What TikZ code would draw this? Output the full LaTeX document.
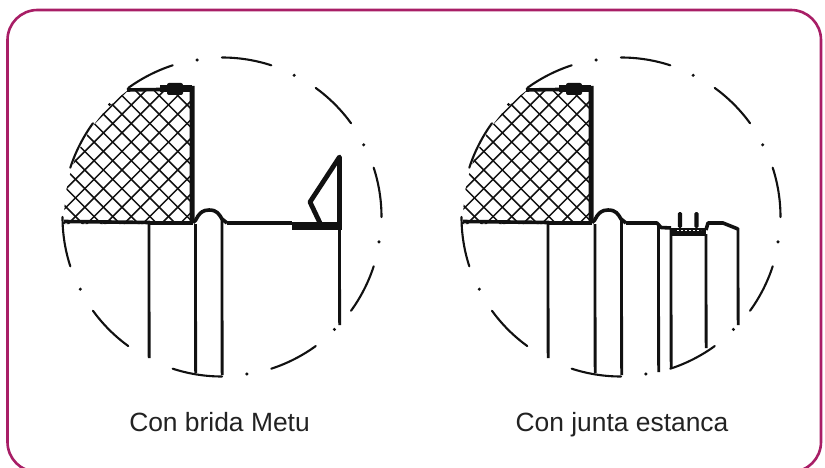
\documentclass[tikz,border=0pt]{standalone}
\usepackage{fontspec}
\setmainfont{Liberation Sans}
\definecolor{framec}{HTML}{A81E66}
\definecolor{inkc}{HTML}{111111}
\definecolor{textc}{HTML}{222222}
\tikzset{
  frameline/.style={draw=framec,line width=2.6pt,rounded corners=30pt},
  arcline/.style={draw=inkc,line width=2.1pt,line cap=round},
  hatchline/.style={draw=inkc,line width=1.5pt},
  mid part/.style={draw=inkc,line width=3.6pt,line join=round},
  thick part/.style={draw=inkc,line width=4.8pt,line join=round},
  caption/.style={anchor=base,text=textc,font=\fontsize{26.4}{30}\selectfont,inner sep=0pt}
}
\newcommand{\vpart}[3]{\fill[inkc] ({#1-1.4},#2) -- ({#1+1.4},#2) -- ({#1+1.55},#3) -- ({#1-1.25},#3) -- cycle;}
\newcommand{\ringdots}{%
  \foreach \a/\b in {90/72,54/36,18/0,-18/-36,-54/-72,-90/-108,-126/-144,-162/-180,162/144,126/108}
    \draw[arcline] (-\a:159.5) arc[start angle=-\a,end angle=-\b,radius=159.5];
  \foreach \a in {99,63,27,-9,-45,-81,-153,135}
    \fill[inkc] (-\a:159) circle (1.7);
}
\newcommand{\hatchblock}{%
  \begin{scope}
    \clip (-30,7) -- (-30,-129) -- (-95,-126) arc[start angle=-127,end angle=-178,radius=158] -- (-160,7) -- cycle;
    \foreach \k in {-14,...,14}{
      \draw[hatchline] (-100+\k*18.6,-140) ++(-160,160) -- ++(320,-320);
      \draw[hatchline] (-100+\k*18.6,-140) ++(-160,-160) -- ++(320,320);
    }
  \end{scope}
  \fill[inkc] (-32.5,-131) -- (-27.5,-131) -- (-27.4,6) -- (-32.4,6) -- cycle;
  \draw[mid part] (-95,-127) -- (-30,-128);
  \fill[inkc,rounded corners=2pt] (-55,-134) rectangle (-39,-122);
  \fill[inkc] (-62,-132) rectangle (-30,-125);
  \draw[mid part] (-158,4.5) -- (-72,5.5);
  \draw[thick part] (-72,6) -- (-29,6);
  \draw[mid part] (-29,5.5) .. controls (-25,5) and (-25,-7) .. (-13,-7)
     .. controls (-5,-7) and (-3,-3) .. (0,2) -- (5,6);
}
\begin{document}
\begin{tikzpicture}[x=1pt,y=-1pt]
  \useasboundingbox (0,0) rectangle (825,468);
  \fill[white] (0,0) rectangle (825,468);
  \begin{scope}
    \clip (0,0) rectangle (825,468);
    \draw[frameline] (7.5,10) rectangle (821,472);
  \end{scope}
  % left detail
  \begin{scope}[shift={(222,217)}]
    \ringdots
    \hatchblock
    \vpart{-73}{7}{141}
    \vpart{-26.5}{7}{156}
    \vpart{0}{2}{158}
    \vpart{117.5}{8}{108}
    \draw[mid part] (5,6) -- (70,6);
    \fill[inkc] (70,5) rectangle (120,12.5);
    \draw[thick part,line cap=round] (117.5,11) -- (117.5,-60) -- (88,-15) -- (98,6);
  \end{scope}
  % right detail
  \begin{scope}[shift={(621,217)}]
    \ringdots
    \hatchblock
    \vpart{-73}{7}{141}
    \vpart{-26}{7}{156}
    \vpart{0.5}{2}{158}
    \vpart{37.5}{8}{155}
    \vpart{50}{11}{151}
    \vpart{85}{17}{131}
    \vpart{117}{11}{108}
    \draw[mid part] (5,6) -- (36,6) -- (40,10.5) -- (50,11);
    \draw[mid part] (85,13) -- (87,6) -- (102,6) -- (117,12);
    \fill[inkc] (50,11) rectangle (85,19);
    \draw[draw=white,line width=0.7pt,dash pattern=on 2pt off 2pt] (56,13.5) -- (80,13.5);
    \fill[inkc,rounded corners=1.5pt] (56.8,-5) rectangle (61.2,11);
    \fill[inkc,rounded corners=1.5pt] (73.3,-5) rectangle (77.7,11);
  \end{scope}
  \node[caption] (capa) at (219.5,431) {Con brida Metu};
  \node[caption] (capb) at (622,431) {Con junta estanca};
\end{tikzpicture}
\end{document}
